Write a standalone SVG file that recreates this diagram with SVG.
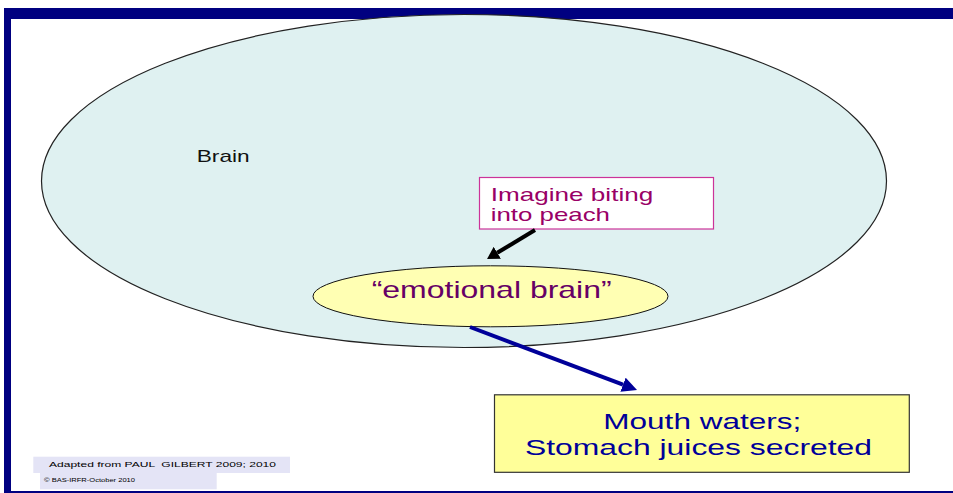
<svg xmlns="http://www.w3.org/2000/svg" width="953" height="493" viewBox="0 0 953 493">
  <style>
    text { font-family: "Liberation Sans", Arial, sans-serif; }
    .frame { fill: #000080; }
    .foot { fill: #e4e4f6; }
    .footText { fill: #000000; white-space: pre; }
  </style>
  <defs>
    <marker id="headBlack" markerUnits="userSpaceOnUse" viewBox="0 0 12 14" refX="0" refY="7" markerWidth="12" markerHeight="14" orient="auto">
      <path d="M0,0 L12,7 L0,14 z" fill="#000000"/>
    </marker>
    <marker id="headBlue" markerUnits="userSpaceOnUse" viewBox="0 0 15 15" refX="0" refY="7.5" markerWidth="15" markerHeight="15" orient="auto">
      <path d="M0,0 L15,7.5 L0,15 z" fill="#000099"/>
    </marker>
  </defs>

  <rect width="953" height="493" fill="#ffffff"/>

  <g id="frame">
    <rect class="frame" x="4" y="8" width="949" height="11"/>
    <rect class="frame" x="4" y="8" width="7" height="484"/>
    <rect class="frame" x="4" y="491" width="949" height="2.5"/>
  </g>

  <g id="brain">
    <ellipse cx="464" cy="181" rx="422.5" ry="166.5" fill="#dff1f1" stroke="#222222" stroke-width="1.2"/>
    <text x="196.7" y="162.3" font-size="17" fill="#111111" textLength="53" lengthAdjust="spacingAndGlyphs">Brain</text>
  </g>

  <g id="imagine">
    <rect x="479.5" y="177.5" width="234" height="51.5" fill="#ffffff" stroke="#cc3399" stroke-width="1.2"/>
    <text x="490.7" y="200.7" font-size="19" fill="#990066" textLength="162.6" lengthAdjust="spacingAndGlyphs">Imagine biting</text>
    <text x="490.7" y="221" font-size="19" fill="#990066" textLength="119.3" lengthAdjust="spacingAndGlyphs">into peach</text>
  </g>

  <g id="emotional">
    <ellipse cx="490.5" cy="296.3" rx="177.5" ry="30.5" fill="#ffffb3" stroke="#111111" stroke-width="1"/>
    <text x="371.7" y="297.7" font-size="24" fill="#660066" textLength="240" lengthAdjust="spacingAndGlyphs">“emotional brain”</text>
  </g>

  <g id="mouth">
    <rect x="494.5" y="394.8" width="414.8" height="77.5" fill="#ffff99" stroke="#333333" stroke-width="1.2"/>
    <text x="603.3" y="428.5" font-size="22" fill="#000099" textLength="198" lengthAdjust="spacingAndGlyphs">Mouth waters;</text>
    <text x="525" y="455" font-size="22" fill="#000099" textLength="347" lengthAdjust="spacingAndGlyphs">Stomach juices secreted</text>
  </g>

  <g id="connectors">
    <path d="M535,230 L497.3,252.8" stroke="#000000" stroke-width="4" fill="none" marker-end="url(#headBlack)"/>
    <path d="M470,327 L623,384.7" stroke="#000099" stroke-width="4" fill="none" marker-end="url(#headBlue)"/>
  </g>

  <g id="footer">
    <rect class="foot" x="33.3" y="456.7" width="256.7" height="16.3"/>
    <rect class="foot" x="40" y="473" width="176.7" height="16.3"/>
    <text class="footText" x="49" y="467.3" font-size="7.5" textLength="227" lengthAdjust="spacingAndGlyphs">Adapted from PAUL  GILBERT 2009; 2010</text>
    <text class="footText" x="44" y="482" font-size="5.8" textLength="91" lengthAdjust="spacingAndGlyphs">© BAS-IRFR-October 2010</text>
  </g>
</svg>
